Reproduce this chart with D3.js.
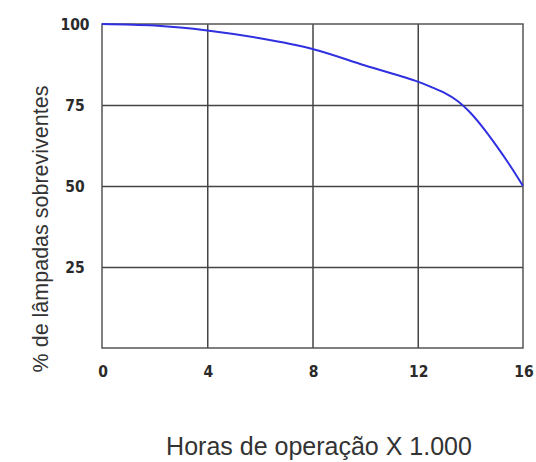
<!DOCTYPE html>
<html>
<head>
<meta charset="utf-8">
<script src="https://cdn.jsdelivr.net/npm/d3@7"></script>
<style>
  body { margin: 0; background: #fff; }
</style>
</head>
<body>
<div id="chart"></div>
<script>
// curve: hours (x 1000) vs % surviving lamps
var hours = [0, 2, 4, 6, 8, 10, 12, 12.5, 13, 13.5, 14, 14.5, 15, 15.5, 16];
var survivors = [100, 99.5, 98, 95.6, 92.3, 87.2, 82.2, 80.6, 78.8, 76.3, 72.6, 67.8, 62.3, 56.4, 50];
var xTicks = [0, 4, 8, 12, 16];
var yTicks = [25, 50, 75, 100];

var W = 536, H = 462;
var margin = { top: 24, right: 13, bottom: 114, left: 102 },
    width = W - margin.left - margin.right,
    height = H - margin.top - margin.bottom;

var svg = d3.select("#chart")
    .append("svg")
    .attr("width", W)
    .attr("height", H);

var g = svg.append("g")
    .attr("transform", "translate(" + margin.left + "," + margin.top + ")");

var x = d3.scaleLinear().domain([0, 16]).range([0, width]);
var y = d3.scaleLinear().domain([0, 100]).range([height, 0]);

// vertical grid
g.append("g")
    .call(d3.axisTop(x).tickValues([4, 8, 12]).tickSize(-height).tickFormat(""))
    .call(function (a) { a.select(".domain").remove(); })
    .selectAll("line")
    .attr("stroke", "#444")
    .attr("stroke-width", 1.5);

// horizontal grid
g.append("g")
    .call(d3.axisLeft(y).tickValues([25, 50, 75]).tickSize(-width).tickFormat(""))
    .call(function (a) { a.select(".domain").remove(); })
    .selectAll("line")
    .attr("stroke", "#444")
    .attr("stroke-width", 1.5);

// frame
g.append("rect")
    .attr("x", 0)
    .attr("y", 0)
    .attr("width", width)
    .attr("height", height)
    .attr("fill", "none")
    .attr("stroke", "#555")
    .attr("stroke-width", 1.5);

// tick labels
g.selectAll(".xlab")
    .data(xTicks)
    .enter()
    .append("text")
    .attr("x", function (d) { return x(d) + 1; })
    .attr("y", height + 29)
    .attr("text-anchor", "middle")
    .style("font-family", "DejaVu Sans Condensed, DejaVu Sans")
    .style("font-weight", "bold")
    .style("font-size", "15.5px")
    .style("fill", "#2a2a2a")
    .text(function (d) { return d; });

g.selectAll(".ylab")
    .data(yTicks)
    .enter()
    .append("text")
    .attr("x", -27)
    .attr("y", function (d) { return y(d); })
    .attr("dy", "0.36em")
    .attr("text-anchor", "middle")
    .style("font-family", "DejaVu Sans Condensed, DejaVu Sans")
    .style("font-weight", "bold")
    .style("font-size", "15.5px")
    .style("fill", "#2a2a2a")
    .text(function (d) { return d; });

// survival curve
var line = d3.line()
    .x(function (d, i) { return x(hours[i]); })
    .y(function (d) { return y(d); })
    .curve(d3.curveCatmullRom);

g.append("path")
    .datum(survivors)
    .attr("d", line)
    .attr("fill", "none")
    .attr("stroke", "#3030e0")
    .attr("stroke-width", 2);

// axis titles
svg.append("text")
    .attr("x", 319)
    .attr("y", 455)
    .attr("text-anchor", "middle")
    .style("font-family", "Liberation Sans, Arial, sans-serif")
    .style("font-size", "25px")
    .style("fill", "#333")
    .text("Horas de operação X 1.000");

svg.append("text")
    .attr("transform", "translate(48,229) rotate(-90)")
    .attr("text-anchor", "middle")
    .style("font-family", "Liberation Sans, Arial, sans-serif")
    .style("font-size", "21.5px")
    .style("fill", "#333")
    .text("% de lâmpadas sobreviventes");
</script>
</body>
</html>
